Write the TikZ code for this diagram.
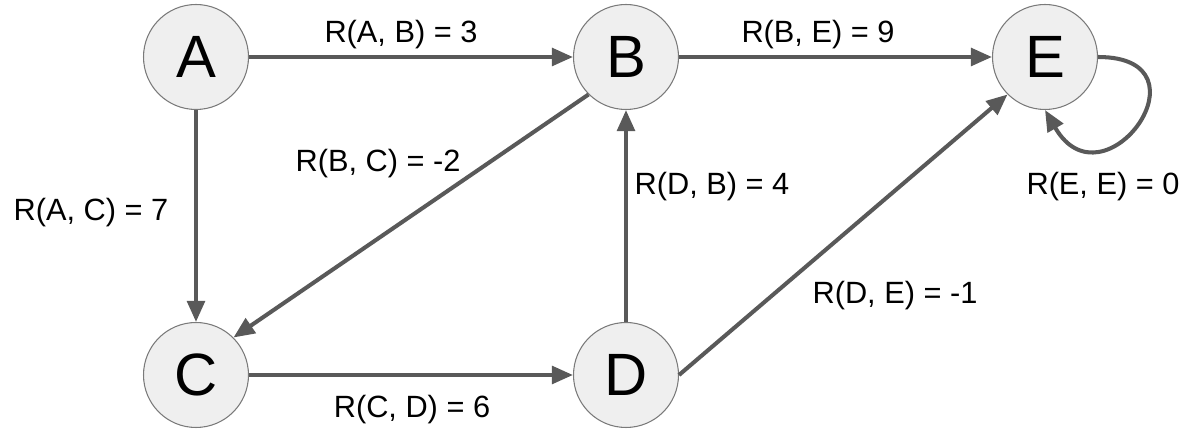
\documentclass[tikz,border=0pt]{standalone}
\usepackage{fontspec}
\setmainfont{Liberation Sans}
\usetikzlibrary{arrows.meta}
\definecolor{nodefill}{HTML}{EFEFEF}
\definecolor{nodeline}{HTML}{7A7A7A}
\definecolor{edgecol}{HTML}{595959}
\begin{document}
\begin{tikzpicture}[x=0.02cm, y=-0.02cm,
    state/.style={circle, draw=nodeline, line width=0.6pt, fill=nodefill,
      minimum size=2.1cm, inner sep=0pt, font=\fontsize{34}{34}\selectfont},
    reward/.style={font=\fontsize{17.5}{17.5}\selectfont, inner sep=1pt}]
  \useasboundingbox (0,0) rectangle (1190,431);
  \draw
    (196,57) node[state] (A){A}
    (626,57) node[state] (B){B}
    (1045,57) node[state] (E){E}
    (196,375) node[state] (C){C}
    (626,375) node[state] (D){D};
  \draw
    (401,35) node[reward] (rab){R(A, B) = 3}
    (818,35) node[reward] (rbe){R(B, E) = 9}
    (91,213) node[reward] (rac){R(A, C) = 7}
    (378,164) node[reward] (rbc){R(B, C) = -2}
    (712,187) node[reward] (rdb){R(D, B) = 4}
    (895,296) node[reward] (rde){R(D, E) = -1}
    (412,410) node[reward] (rcd){R(C, D) = 6}
    (1103,187) node[reward] (ree){R(E, E) = 0};
  \begin{scope}[draw=edgecol, line width=2.3pt, -{Triangle[length=12pt, width=10pt]}]
    \draw (A) to (B);
    \draw (B) to (E);
    \draw (A) to (C);
    \draw (B.south west) to (C.north east);
    \draw (D) to (B);
    \draw (C) to (D);
    \draw (D.east) to (E.south west);
    \draw (E.east) to[out=0, in=-60, looseness=4] (E.south);
  \end{scope}
\end{tikzpicture}
\end{document}
